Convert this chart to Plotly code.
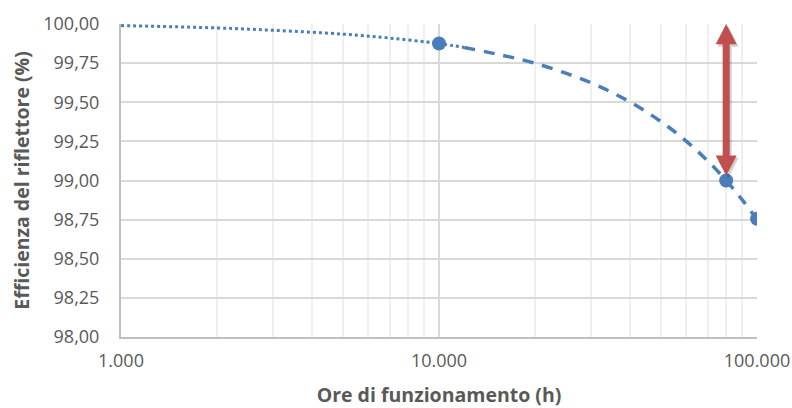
import plotly.graph_objects as go

# ---- data ----
hours_dotted = [1000, 2000, 3000, 5000, 7000, 10000, 12000]
eff_dotted = [99.99, 99.975, 99.96, 99.935, 99.91, 99.875, 99.85]

hours_dashed = [12000, 15000, 20000, 30000, 40000, 50000, 60000, 70000, 80000, 90000, 100000]
eff_dashed = [99.85, 99.81, 99.75, 99.625, 99.50, 99.375, 99.25, 99.125, 99.00, 98.875, 98.75]

hours_points = [10000, 80000, 100000]
eff_points = [99.875, 99.00, 98.755]

arrow_hours = 80000
arrow_top = 100.00
arrow_bottom = 99.03

y_ticks = [98.00, 98.25, 98.50, 98.75, 99.00, 99.25, 99.50, 99.75, 100.00]
x_ticks = [1000, 10000, 100000]

blue = "#4A7EBB"
red = "#C0504D"
grey_text = "#595959"

fig = go.Figure()
fig.add_trace(go.Scatter(x=hours_dotted, y=eff_dotted, mode="lines",
                         line=dict(color=blue, width=3, dash="dot", shape="spline"),
                         hoverinfo="skip", showlegend=False))
fig.add_trace(go.Scatter(x=hours_dashed, y=eff_dashed, mode="lines",
                         line=dict(color=blue, width=3.5, dash="11px,9px", shape="spline"),
                         hoverinfo="skip", showlegend=False))
fig.add_trace(go.Scatter(x=hours_points, y=eff_points, mode="markers",
                         marker=dict(color=blue, size=14), showlegend=False))

# double-headed arrow: x geometry in pixels around the anchor, y in data units
head_len = 0.13
hw, sw = 10.5, 3.5


def arrow_path(dx=0.0, dy=0.0):
    t, b = arrow_top + dy, arrow_bottom + dy
    pts = [
        (0 + dx, t), (hw + dx, t - head_len), (sw + dx, t - head_len),
        (sw + dx, b + head_len), (hw + dx, b + head_len), (0 + dx, b),
        (-hw + dx, b + head_len), (-sw + dx, b + head_len),
        (-sw + dx, t - head_len), (-hw + dx, t - head_len),
    ]
    return "M " + " L ".join(f"{x},{y}" for x, y in pts) + " Z"


fig.add_shape(type="path", xref="x", yref="y", xsizemode="pixel", xanchor=arrow_hours,
              path=arrow_path(2, -0.015), fillcolor="rgba(0,0,0,0.18)", line=dict(width=0),
              layer="above")
fig.add_shape(type="path", xref="x", yref="y", xsizemode="pixel", xanchor=arrow_hours,
              path=arrow_path(), fillcolor=red, line=dict(width=0), layer="above")

fig.update_layout(
    width=792, height=408,
    margin=dict(l=121, r=35, t=24, b=71),
    paper_bgcolor="white", plot_bgcolor="white",
    separators=",.",
    font=dict(family="Open Sans, Liberation Sans, sans-serif", color=grey_text, size=18),
)
fig.update_xaxes(
    type="log", range=[3, 5], automargin=False,
    tickvals=x_ticks, tickformat=",.0f",
    tickfont=dict(size=18, color=grey_text),
    ticklabelstandoff=6,
    showgrid=True, gridcolor="#D9D9D9", gridwidth=2,
    minor=dict(showgrid=True, gridcolor="#EFEFEF", gridwidth=2, dtick="D1"),
    showline=True, linecolor="#BFBFBF", linewidth=2,
    zeroline=False,
    title=dict(text="<b>Ore di funzionamento (h)</b>", font=dict(size=19.5, color=grey_text), standoff=20),
)
fig.update_yaxes(
    range=[98, 100], tickvals=y_ticks, tickformat=".2f", automargin=False,
    tickfont=dict(size=18, color=grey_text),
    ticklabelstandoff=16,
    showgrid=True, gridcolor="#D9D9D9", gridwidth=2,
    showline=True, linecolor="#BFBFBF", linewidth=2,
    zeroline=False,
    title=dict(text="<b>Efficienza del riflettore (%)</b>", font=dict(size=19.5, color=grey_text), standoff=8),
)

fig.write_html("out.html", config={"displayModeBar": False},
               post_script="document.body.style.margin='0';")
